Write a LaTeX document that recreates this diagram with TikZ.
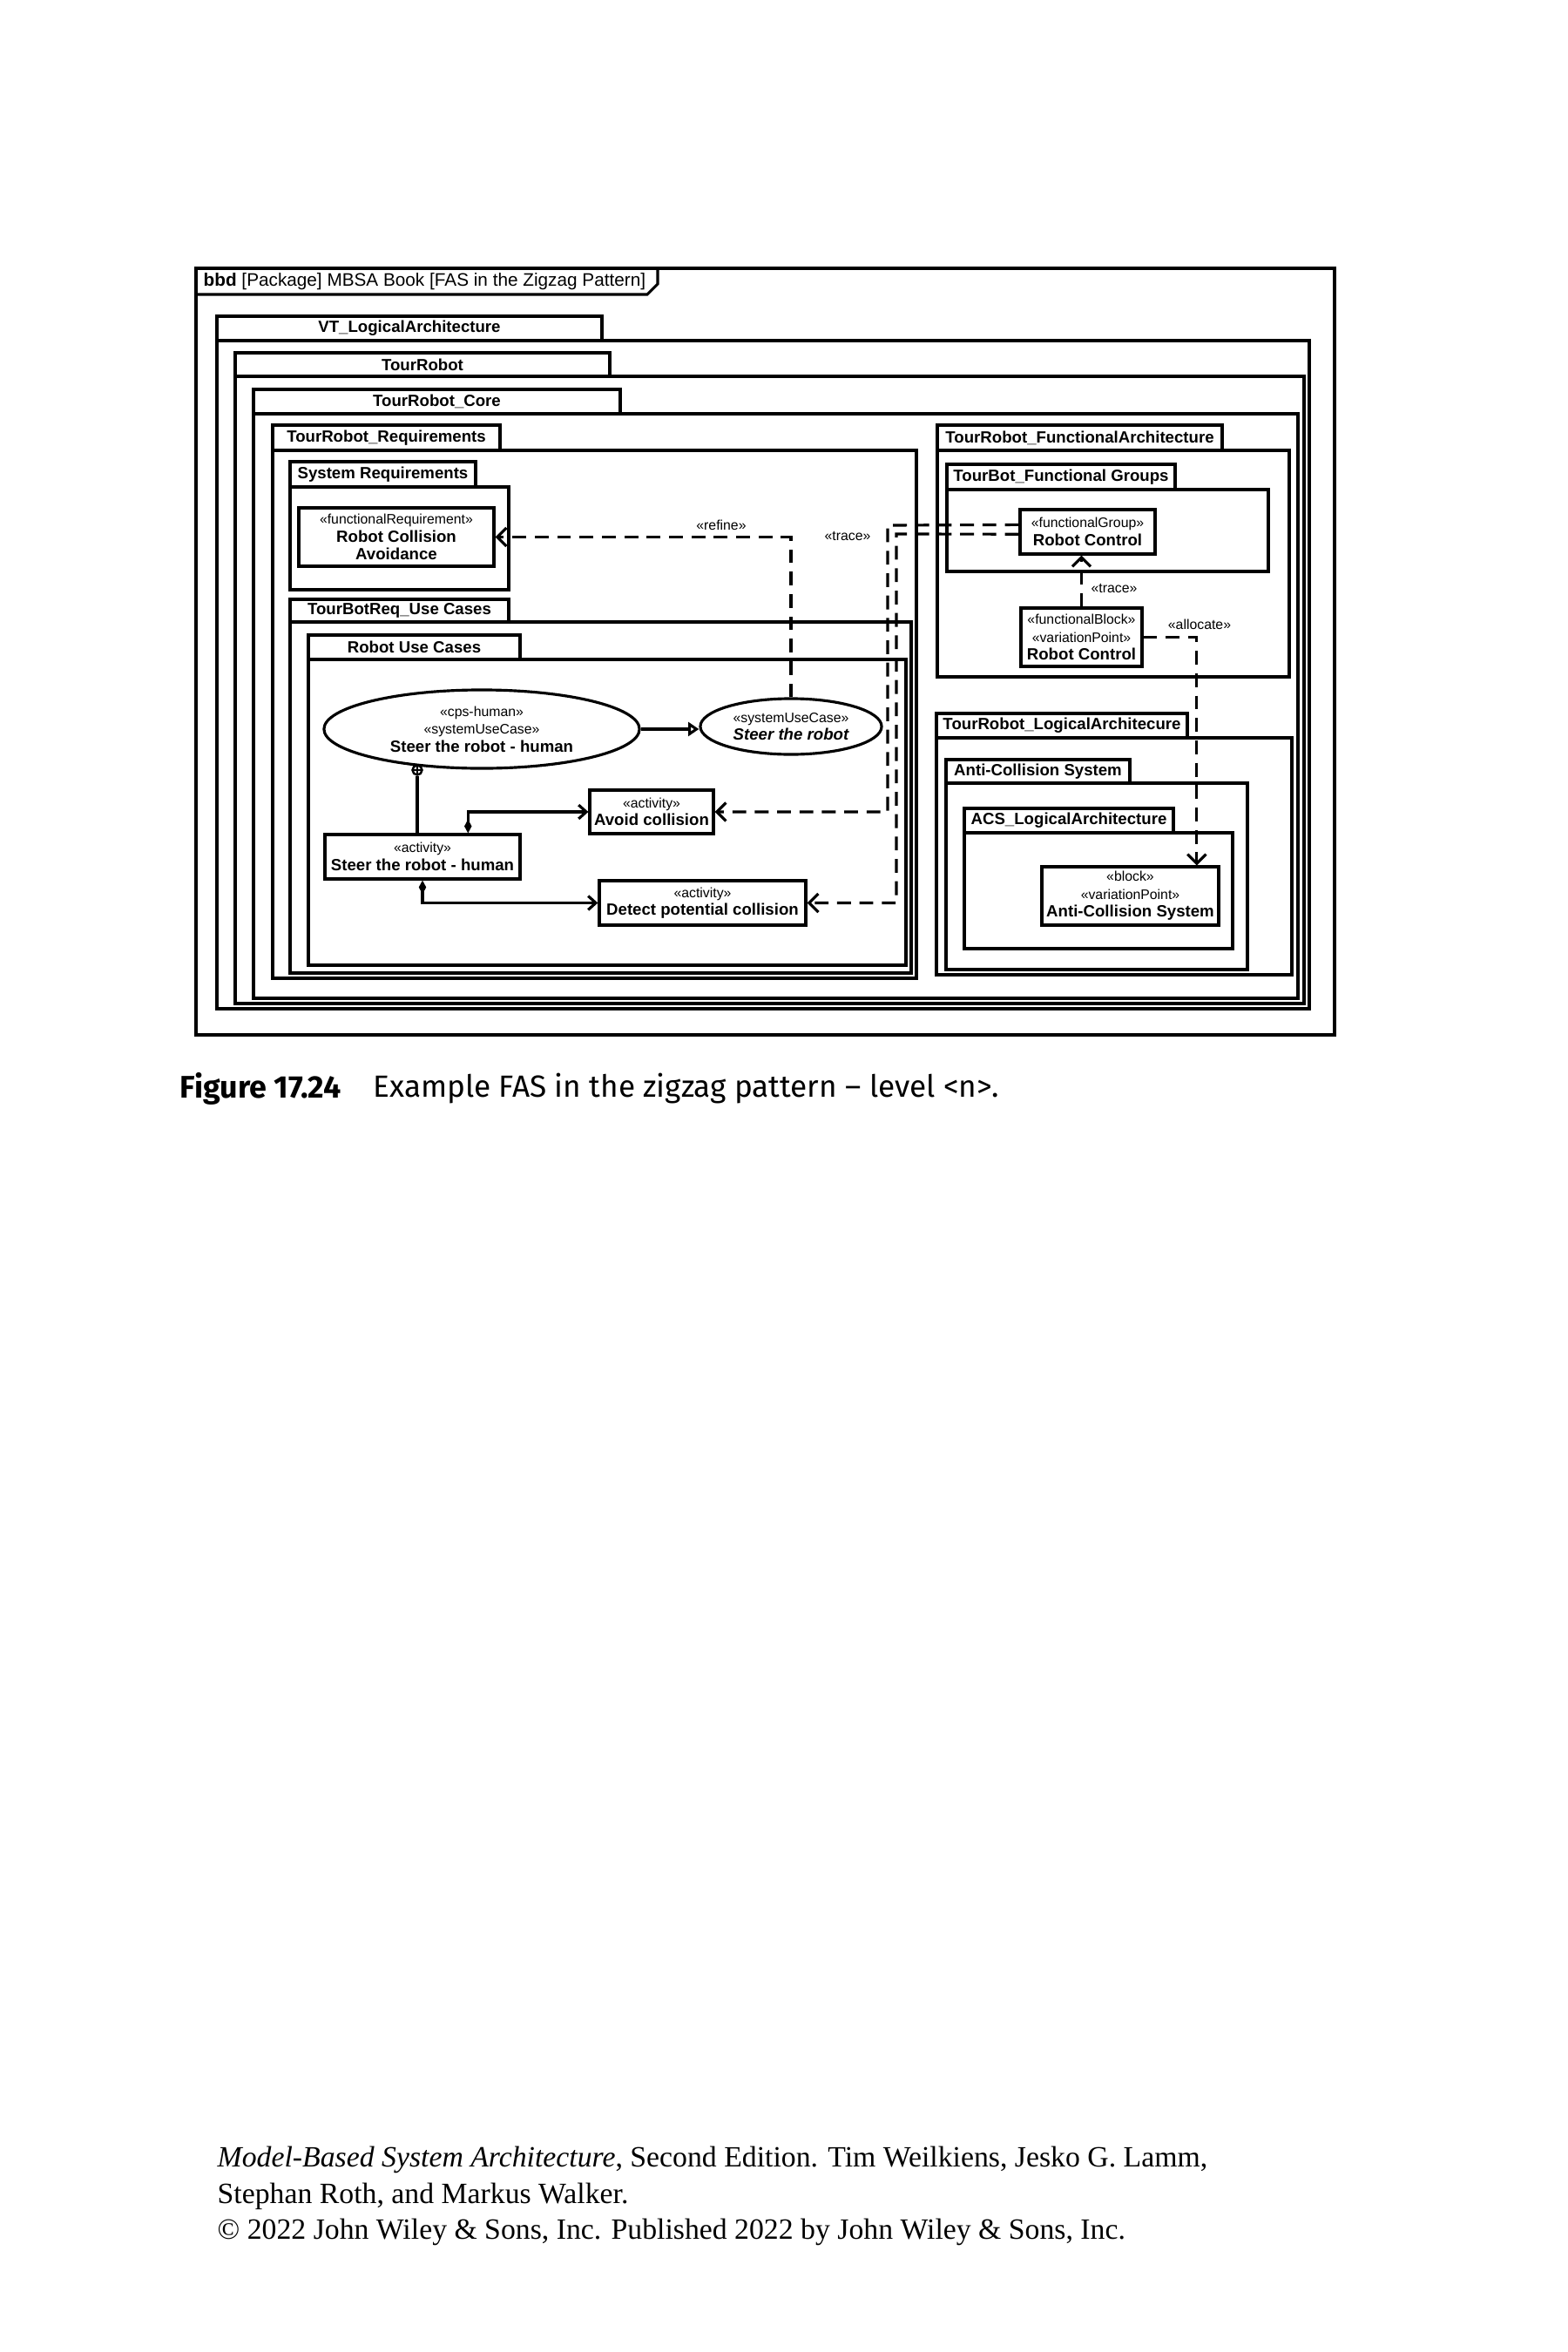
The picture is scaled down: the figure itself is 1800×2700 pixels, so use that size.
\documentclass[tikz,border=0pt]{standalone}
\usepackage{fontspec}
\setmainfont{Liberation Sans}
\newfontfamily\capfont{Fira Sans}
\newfontfamily\bookfont{Liberation Serif}
\usetikzlibrary{arrows.meta,shapes.geometric,calc}
\tikzset{
    pkgline/.style={draw=black, line width=0.9pt},
    tablbl/.style={font=\fontsize{5.3}{6}\selectfont\bfseries, inner sep=0pt},
    stereo/.style={font=\fontsize{4.5}{5.8}\selectfont, inner sep=0pt},
    blk/.style={draw=black, line width=0.9pt, rectangle, align=center, inner sep=1pt,
        font=\fontsize{4.5}{5.8}\selectfont},
    usecase/.style={draw=black, line width=0.9pt, ellipse, align=center, inner sep=0pt,
        font=\fontsize{4.5}{5.8}\selectfont},
    dep/.style={draw=black, line width=0.9pt, dash pattern=on 4.5pt off 2.8pt,
        -{Straight Barb[length=3pt,width=6pt]}},
    comp/.style={draw=black, line width=0.9pt,
        {Diamond[length=4.5pt,width=2.4pt]}-{Straight Barb[length=2.5pt,width=4.5pt]}},
    gen/.style={draw=black, line width=0.9pt, -{Triangle[open,length=3.5pt,width=4.5pt]}},
    assoc/.style={draw=black, line width=0.9pt},
    owned/.style={circle, draw=black, line width=0.7pt, inner sep=0pt, minimum size=0.11cm,
        path picture={\draw[line width=0.5pt] (path picture bounding box.north) -- (path picture bounding box.south)
            (path picture bounding box.west) -- (path picture bounding box.east);}},
}
% name, left, tab top, tab right, body top, right, bottom, label
\newcommand{\umlpkg}[8]{%
    \draw[pkgline] (#2,#3) rectangle (#4,#5);
    \draw[pkgline] (#2,#5) rectangle (#6,#7);
    \node[tablbl] (#1) at ({(#2+#4)/2},{(#3+#5)/2}) {#8};
}
\newcommand{\nm}[1]{{\fontsize{5.3}{5.8}\selectfont\bfseries #1}}

\begin{document}
\begin{tikzpicture}[x=0.01cm, y=-0.01cm]
    \fill[white] (0,0) rectangle (1800,2700);
    \useasboundingbox (0,0) rectangle (1800,2700);
    % diagram frame
    \draw[pkgline] (225,308) rectangle (1532,1188);
    \draw[pkgline] (225,338) -- (743,338) -- (755,326) -- (755,308);
    \node[anchor=west, inner sep=0pt, font=\fontsize{5.9}{7}\selectfont] (hdr) at (233,323)
        {\textbf{bbd} [Package] MBSA Book [FAS in the Zigzag Pattern]};
    % packages
    \umlpkg{vtla}{249}{363}{691}{391}{1503}{1158}{VT\_LogicalArchitecture}
    \umlpkg{tr}{270}{405}{700}{432}{1497}{1152}{TourRobot}
    \umlpkg{trcore}{291}{447}{712}{475}{1490}{1146}{TourRobot\_Core}
    \umlpkg{trreq}{313}{488}{574}{517}{1052}{1123}{TourRobot\_Requirements}
    \umlpkg{sysreq}{333}{530}{546}{559}{584}{677}{System Requirements}
    \umlpkg{tbuc}{333}{688}{584}{714}{1046}{1117}{TourBotReq\_Use Cases}
    \umlpkg{ruc}{354}{729}{597}{757}{1040}{1108}{Robot Use Cases}
    \umlpkg{trfa}{1076}{488}{1403}{517}{1480}{777}{TourRobot\_FunctionalArchitecture}
    \umlpkg{tbfg}{1087}{533}{1349}{562}{1456}{656}{TourBot\_Functional Groups}
    \umlpkg{trla}{1075}{819}{1363}{847}{1483}{1119}{TourRobot\_LogicalArchitecure}
    \umlpkg{acs}{1086}{872}{1297}{899}{1432}{1113}{Anti-Collision System}
    \umlpkg{acsla}{1107}{928}{1347}{956}{1415}{1089}{ACS\_LogicalArchitecture}
    % blocks
    \node[blk, minimum width=2.24cm, minimum height=0.67cm] (reqRCA) at (455,616.5)
        {«functionalRequirement»\\\nm{Robot Collision}\\\nm{Avoidance}};
    \node[blk, minimum width=1.55cm, minimum height=0.51cm] (fgRC) at (1248.5,610.5)
        {«functionalGroup»\\\nm{Robot Control}};
    \node[blk, minimum width=1.39cm, minimum height=0.67cm] (fbRC) at (1241.5,731.5)
        {«functionalBlock»\\«variationPoint»\\\nm{Robot Control}};
    \node[blk, minimum width=2.03cm, minimum height=0.67cm] (bACS) at (1297.5,1028.5)
        {«block»\\«variationPoint»\\\nm{Anti-Collision System}};
    % use cases and activities
    \node[usecase, minimum width=3.62cm, minimum height=0.9cm] (ucSRH) at (553,837)
        {«cps-human»\\«systemUseCase»\\\nm{Steer the robot - human}};
    \node[usecase, minimum width=2.08cm, minimum height=0.64cm] (ucSR) at (908,834)
        {«systemUseCase»\\\nm{\itshape Steer the robot}};
    \node[blk, minimum width=2.24cm, minimum height=0.51cm] (actSRH) at (485,983.5)
        {«activity»\\\nm{Steer the robot - human}};
    \node[blk, minimum width=1.42cm, minimum height=0.5cm] (actAC) at (748,932)
        {«activity»\\\nm{Avoid collision}};
    \node[blk, minimum width=2.37cm, minimum height=0.51cm] (actDPC) at (806.5,1036.5)
        {«activity»\\\nm{Detect potential collision}};
    % relations
    \node[owned] (own) at (479,884) {};
    \draw[assoc] (own.south) -- (own.south |- actSRH.north);
    \draw[gen] (ucSRH.east) -- (ucSRH.east -| ucSR.west);
    \draw[comp] ($(actSRH.north west)!.73!(actSRH.north east)$) |- (actAC.west);
    \draw[comp] (actSRH.south) |- (actDPC.west);
    \draw[dep] (ucSR.north) |- (reqRCA.east);
    \node[stereo] (lrefine) at (828,603) {«refine»};
    \coordinate (tA) at (1019,603);
    \coordinate (tB) at (1029,613);
    \draw[dep] ($(fgRC.north west)!.35!(fgRC.south west)$) -- (tA) |- (actAC.east);
    \draw[dep] ($(fgRC.north west)!.55!(fgRC.south west)$) -- (tB) |- (actDPC.east);
    \node[stereo] (ltrace) at (973,615) {«trace»};
    \draw[dep] (fbRC.north) -- (fbRC.north |- fgRC.south);
    \node[stereo] (ltrace2) at (1279,675) {«trace»};
    \draw[dep] (fbRC.east) -| ($(bACS.north west)!.87!(bACS.north east)$);
    \node[stereo] (lalloc) at (1377,717) {«allocate»};
    % caption and book note
    \node[anchor=west, inner sep=0pt, font=\capfont\fontsize{10.2}{12}\selectfont\bfseries] (capnum) at (206,1250)
        {Figure 17.24};
    \node[anchor=west, inner sep=0pt, font=\capfont\fontsize{10}{12}\selectfont] (captxt) at (428,1250)
        {Example FAS in the zigzag pattern – level <n>.};
    \node[anchor=west, inner sep=0pt, align=left, font=\bookfont\fontsize{9.6}{11.7}\selectfont] (foot) at (249,2521)
        {\textit{Model-Based System Architecture}, Second Edition. Tim Weilkiens, Jesko G. Lamm,\\
         Stephan Roth, and Markus Walker.\\
         © 2022 John Wiley \& Sons, Inc. Published 2022 by John Wiley \& Sons, Inc.};
\end{tikzpicture}
\end{document}
